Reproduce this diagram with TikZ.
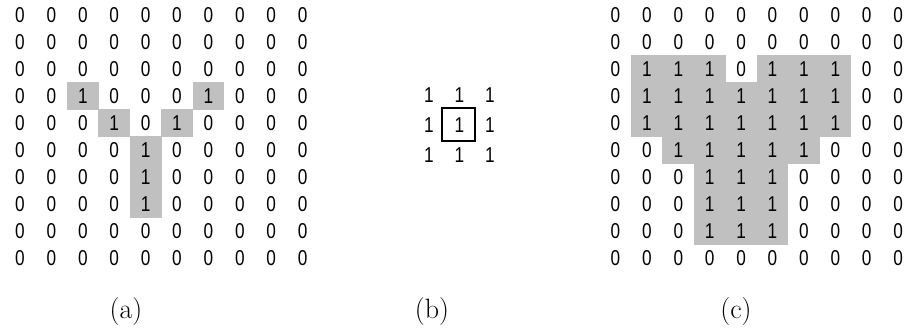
\documentclass[tikz,border=0pt]{standalone}
\usepackage{fontspec}
\newfontfamily\digitfont[FakeStretch=0.8]{Liberation Sans}
\definecolor{cellgray}{RGB}{192,192,192}
\begin{document}
\begin{tikzpicture}[x=1pt,y=-1pt]
\tikzset{
  digit/.style={font=\digitfont\fontsize{21.5}{22}\selectfont, inner sep=0pt},
  caption/.style={font=\fontsize{28}{30}\selectfont, inner sep=0pt},
  ring/.style={draw=black, line width=2.8pt, minimum size=33pt, inner sep=0pt}
}
\useasboundingbox (0,0) rectangle (906,332);

\foreach \row [count=\r from 0] in {
  {0,0,0,0,0,0,0,0,0,0},{0,0,0,0,0,0,0,0,0,0},{0,0,0,0,0,0,0,0,0,0},
  {0,0,1,0,0,0,1,0,0,0},{0,0,0,1,0,1,0,0,0,0},{0,0,0,0,1,0,0,0,0,0},
  {0,0,0,0,1,0,0,0,0,0},{0,0,0,0,1,0,0,0,0,0},{0,0,0,0,0,0,0,0,0,0},
  {0,0,0,0,0,0,0,0,0,0}} {
  \foreach \v [count=\c from 0] in \row {
    \ifnum\v=1 \fill[cellgray] ({20+31.4*\c-15.9},{15+27*\r-13.7}) rectangle +(31.8,27.4); \fi
    \node[digit] (a-\r-\c) at ({20+31.4*\c},{15+27*\r}) {\v};
  }
}

\foreach \r in {0,1,2}
  \foreach \c in {0,1,2}
    \node[digit] (b-\r-\c) at ({429+30.5*\c},{95+30*\r}) {1};
\node[ring] (center) at (458.5,124.5) {};

\foreach \row [count=\r from 0] in {
  {0,0,0,0,0,0,0,0,0,0},{0,0,0,0,0,0,0,0,0,0},{0,1,1,1,0,1,1,1,0,0},
  {0,1,1,1,1,1,1,1,0,0},{0,1,1,1,1,1,1,1,0,0},{0,0,1,1,1,1,1,0,0,0},
  {0,0,0,1,1,1,0,0,0,0},{0,0,0,1,1,1,0,0,0,0},{0,0,0,1,1,1,0,0,0,0},
  {0,0,0,0,0,0,0,0,0,0}} {
  \foreach \v [count=\c from 0] in \row {
    \ifnum\v=1 \fill[cellgray] ({615.5+31.4*\c-15.9},{15+27*\r-13.7}) rectangle +(31.8,27.4); \fi
    \node[digit] (c-\r-\c) at ({615.5+31.4*\c},{15+27*\r}) {\v};
  }
}

\node[caption] (cap-a) at (126,312) {(a)};
\node[caption] (cap-b) at (432,312) {(b)};
\node[caption] (cap-c) at (736,312) {(c)};
\end{tikzpicture}
\end{document}
